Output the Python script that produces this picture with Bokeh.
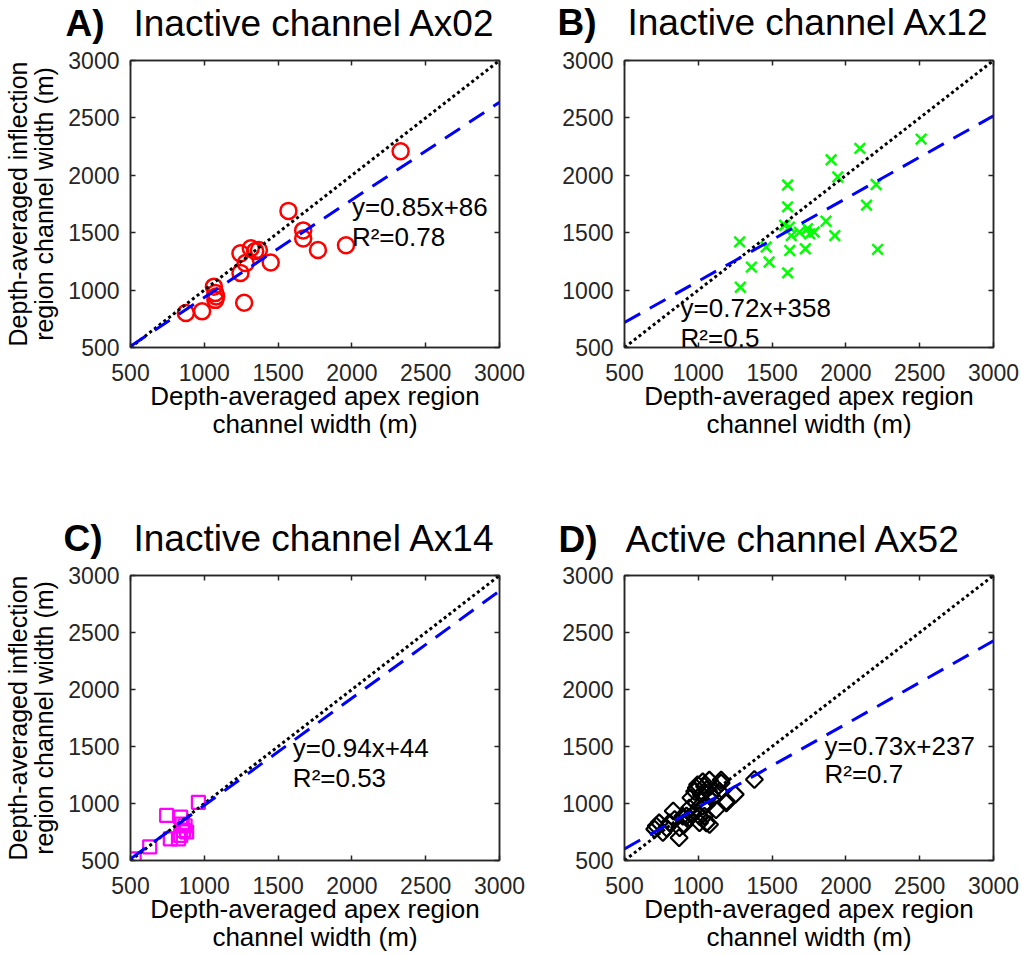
import numpy as np
from bokeh.plotting import figure
from bokeh.models import LinearAxis, FixedTicker, Label, Range1d
from bokeh.core.properties import value
from bokeh.layouts import row, column
from bokeh.embed import file_html
from bokeh.resources import INLINE

# ---------------- data ----------------
ticks = [500, 1000, 1500, 2000, 2500, 3000]
axis_min, axis_max = 500, 3000

letters = ["A)", "B)", "C)", "D)"]
titles = ["Inactive channel Ax02", "Inactive channel Ax12",
          "Inactive channel Ax14", "Active channel Ax52"]

A_x = [875, 985, 1065, 1075, 1080, 1075, 1270, 1245, 1280, 1245, 1315, 1345, 1370,
       1450, 1570, 1670, 1670, 1770, 1960, 2330]
A_y = [800, 815, 1030, 975, 945, 915, 890, 1150, 1235, 1320, 1365, 1340, 1350,
       1240, 1690, 1520, 1450, 1350, 1390, 2210]

B_x = [1285, 1280, 1360, 1460, 1480, 1585, 1605, 1605, 1618, 1620, 1605, 1630, 1685,
       1725, 1740, 1755, 1785, 1865, 1900, 1925, 1945, 2095, 2140, 2205, 2215, 2510]
B_y = [1025, 1420, 1200, 1375, 1245, 1565, 1915, 1725, 1549, 1345, 1150, 1475, 1505,
       1360, 1535, 1490, 1505, 1600, 2135, 1475, 1985, 2235, 1740, 1920, 1355, 2315]

C_x = [525, 630, 745, 770, 825, 840, 840, 850, 860, 870, 880, 960]
C_y = [515, 620, 895, 690, 690, 880, 720, 820, 765, 805, 750, 1010]

D_x = [705, 735, 760, 785, 715, 805, 830, 840, 870, 873, 895, 905, 920, 940, 940,
       950, 963, 975, 985, 986, 995, 1008, 1008, 1020, 1030, 1030, 1042, 1042, 1055,
       1055, 1055, 1075, 1076, 1087, 1100, 1120, 1121, 1145, 1155, 1155, 1190, 1190,
       1250, 1380]
D_y = [775, 830, 745, 785, 802, 831, 935, 860, 700, 787, 889, 815, 890, 960, 874,
       1050, 903, 1105, 1005, 1136, 1165, 889, 831, 1080, 1190, 976, 1150, 889, 1120,
       990, 830, 1205, 816, 1078, 1050, 945, 1136, 1105, 1205, 1180, 1005, 1020,
       1080, 1210]

slopes = [0.85, 0.72, 0.94, 0.73]
intercepts = [86, 358, 44, 237]
r2_text = ["0.78", "0.5", "0.53", "0.7"]
eq_x = [2000, 880, 1600, 1855]
eq_y1 = [1655, 771, 1415, 1432]
eq_y2 = [1395, 509, 1153, 1188]

xlabel = "Depth-averaged apex region\nchannel width (m)"
ylabel = "Depth-averaged inflection\nregion channel width (m)"

FONT = "Liberation Sans"
AXC = "#262626"


def title_fig(i, width, height, letter_x, title_x, base_y):
    t = figure(width=width, height=height, output_backend="svg", toolbar_location=None,
               x_range=Range1d(0, width), y_range=Range1d(0, height),
               x_axis_location=None, y_axis_location=None, min_border=0)
    t.grid.visible = False
    t.outline_line_color = None
    t.text(x=[letter_x], y=[base_y], text=[letters[i]], text_font=value(FONT),
           text_font_size="37px", text_font_style="bold", text_color="black",
           text_baseline="alphabetic", text_align="left")
    t.text(x=[title_x], y=[base_y], text=[titles[i]], text_font=value(FONT),
           text_font_size="37px", text_color="black",
           text_baseline="alphabetic", text_align="left")
    return t


def panel(i, xs, ys, marker, color, size, lw, angle, show_ylabel,
          width, height, bl, br, bt, bb):
    p = figure(width=width, height=height, output_backend="svg", toolbar_location=None,
               x_range=Range1d(axis_min, axis_max), y_range=Range1d(axis_min, axis_max),
               min_border_left=bl, min_border_right=br, min_border_top=bt,
               min_border_bottom=bb)
    p.grid.visible = False
    p.outline_line_color = AXC
    p.outline_line_width = 1.5
    p.background_fill_color = "white"
    p.border_fill_color = "white"

    for ax in (p.xaxis[0], p.yaxis[0]):
        ax.ticker = FixedTicker(ticks=ticks)
        ax.major_tick_in = 5
        ax.major_tick_out = 0
        ax.minor_tick_line_color = None
        ax.axis_line_color = AXC
        ax.axis_line_width = 1.5
        ax.major_tick_line_color = AXC
        ax.major_tick_line_width = 1.5
        ax.major_label_text_font = FONT
        ax.major_label_text_font_size = "23px"
        ax.major_label_text_color = AXC
        ax.axis_label_text_font = FONT
        ax.axis_label_text_font_size = "26px"
        ax.axis_label_text_font_style = "normal"
        ax.axis_label_text_color = "#000000"
        ax.axis_label_text_line_height = 0.95
    p.xaxis[0].major_label_standoff = 16
    p.xaxis[0].axis_label = xlabel
    p.xaxis[0].axis_label_standoff = -3
    p.yaxis[0].major_label_standoff = 11
    if show_ylabel:
        p.yaxis[0].axis_label = ylabel
        p.yaxis[0].axis_label_text_font_size = "25px"
        p.yaxis[0].axis_label_standoff = 7

    for loc in ("above", "right"):
        ax = LinearAxis(ticker=FixedTicker(ticks=ticks), major_label_text_font_size="0px",
                        major_label_standoff=0, major_tick_in=5, major_tick_out=0,
                        minor_tick_line_color=None, axis_line_color=AXC, axis_line_width=1.5,
                        major_tick_line_color=AXC, major_tick_line_width=1.5,
                        major_label_text_color=None)
        p.add_layout(ax, loc)

    p.scatter(xs, ys, marker=marker, size=size, angle=angle, fill_color=None,
              line_color=color, line_width=lw)

    lx = [axis_min, axis_max]
    p.line(lx, lx, line_color="black", line_width=3, line_dash="3 3")
    fy = [slopes[i] * v + intercepts[i] for v in lx]
    p.line(lx, fy, line_color="#0000FF", line_width=3, line_dash="18 11")

    p.add_layout(Label(x=eq_x[i], y=eq_y1[i], y_offset=8,
                       text=f"y={slopes[i]}x+{intercepts[i]}",
                       text_font=FONT, text_font_size="26px", text_color="black",
                       text_baseline="alphabetic", text_align="left"))
    p.add_layout(Label(x=eq_x[i], y=eq_y2[i], y_offset=8, text=f"R\u00b2={r2_text[i]}",
                       text_font=FONT, text_font_size="26px", text_color="black",
                       text_baseline="alphabetic", text_align="left"))
    return p


tA = title_fig(0, 530, 47, 65, 133, 24)
tB = title_fig(1, 490, 47, 27, 97, 25)
tC = title_fig(2, 530, 62, 63, 133, 24)
tD = title_fig(3, 490, 62, 28, 95, 23)

pA = panel(0, A_x, A_y, "circle", "#FF0000", 16, 2.5, 0, True, 530, 453, 130, 31, 13, 153)
pB = panel(1, B_x, B_y, "x", "#00FF00", 15, 2.5, 0, False, 490, 453, 94, 27, 13, 153)
pC = panel(2, C_x, C_y, "square", "#FF00FF", 13, 2.2, 0, True, 530, 393, 130, 31, 13, 93)
pD = panel(3, D_x, D_y, "square", "#000000", 12, 2.2, np.pi / 4, False, 490, 393, 94, 27, 13, 93)

layout = column(row(tA, tB), row(pA, pB), row(tC, tD), row(pC, pD))
open("out.html", "w").write(file_html(layout, INLINE))
